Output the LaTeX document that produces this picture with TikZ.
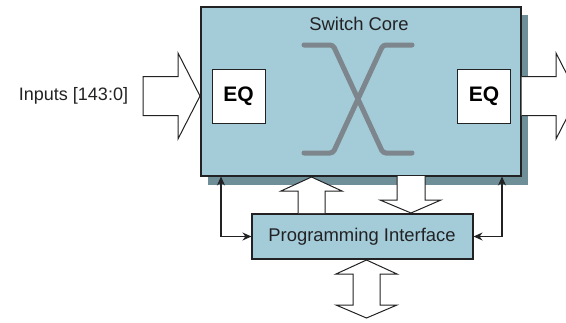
\documentclass[tikz,border=0pt]{standalone}
\usepackage{fontspec}
\setmainfont{Liberation Sans}
\usetikzlibrary{arrows.meta,calc}
\definecolor{ink}{RGB}{34,34,36}
\definecolor{boxfill}{RGB}{163,203,216}
\definecolor{coreshadow}{RGB}{110,142,152}
\definecolor{xgray}{RGB}{125,134,140}
\tikzset{
  blk/.style={draw=ink, line width=1.1pt, fill=boxfill},
  eqbox/.style={draw=ink, line width=1pt, fill=white, minimum width=53pt, minimum height=54pt,
    inner sep=0pt, font=\fontsize{21}{24}\selectfont\bfseries},
  fat/.style={draw=ink, line width=1pt, fill=white},
  link/.style={draw=ink, line width=1.1pt, {Stealth[length=9pt,width=8pt]}-{Stealth[length=9pt,width=8pt]}},
  xbar/.style={draw=xgray, line width=5pt, line cap=round, rounded corners=3pt},
  lbl/.style={font=\fontsize{18.4}{21}\selectfont, text=ink}
}
\begin{document}
\begin{tikzpicture}[x=1pt, y=-1pt]
\clip (0,0) rectangle (566,322);
% switch core with its drop shadow
\fill[coreshadow] (208,15) rectangle (528,185);
\node[blk, minimum width=320pt, minimum height=169pt, inner sep=0pt] (core) at (361,91.5) {};
\node[lbl] (title) at (359,24) {Switch Core};
\node[eqbox] (eqin) at (238.5,96) {EQ};
\node[eqbox] (eqout) at (484,96) {EQ};
% crossbar
\draw[xbar] (304,45) -- (333,45) -- (383,153) -- (412,153);
\draw[xbar] (304,153) -- (333,153) -- (383,45) -- (412,45);
% programming interface
\node[blk, minimum width=221pt, minimum height=45pt, inner sep=0pt] (prog) at (362.5,236.5) {};
\node[lbl] (progtxt) at (362,236.5) {Programming Interface};
\node[lbl, font=\fontsize{18}{21}\selectfont] (inputs) at (73.5,96) {Inputs [143:0]};
% wide data arrows: in, out, to core, from core, to/from outside
\draw[fat] (143,76.5) -- (178,76.5) -- (178,53) -- (200,96) -- (178,139) -- (178,115.5) -- (143,115.5) -- cycle;
\draw[fat] (core.east |- 0,76.5) -- (556,76.5) -- (556,53) -- (578,96) -- (556,139) -- (556,115.5) -- (core.east |- 0,115.5);
\draw[fat] (298,213) -- (298,191) -- (281,191) -- (311.5,177) -- (342,191) -- (325,191) -- (325,213);
\draw[fat] (397,176) -- (397,200) -- (380,200) -- (411,213) -- (441,200) -- (425,200) -- (425,176);
\draw[fat] (353,274) -- (336,274) -- (366.5,260) -- (397,274) -- (380,274) -- (380,305) -- (397,305)
  -- (366.5,318) -- (336,305) -- (353,305) -- cycle;
% control links
\coordinate (lnk1) at (221,176.5);
\coordinate (lnk2) at (502,176.5);
\draw[link] (lnk1) |- (prog.west);
\draw[link] (lnk2) |- (prog.east);
\end{tikzpicture}
\end{document}
